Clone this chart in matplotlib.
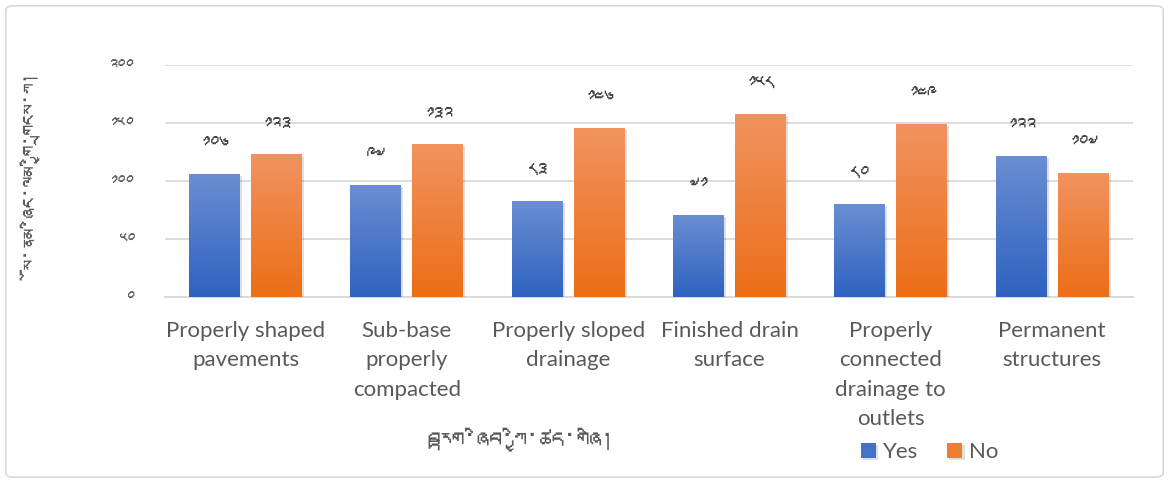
import numpy as np
import matplotlib
matplotlib.use("Agg")
import matplotlib.pyplot as plt
from matplotlib import font_manager
from matplotlib.ft2font import FT2Font
from matplotlib.patches import FancyBboxPatch
from matplotlib.colors import LinearSegmentedColormap
import matplotlib.patheffects as pe

categories = ["Properly shaped\npavements", "Sub-base\nproperly\ncompacted",
              "Properly sloped\ndrainage", "Finished drain\nsurface",
              "Properly\nconnected\ndrainage to\noutlets", "Permanent\nstructures"]
yes_vals = [106, 97, 83, 71, 80, 122]
no_vals = [123, 132, 146, 158, 149, 107]
yticks = [0, 50, 100, 150, 200]
series_names = ["Yes", "No"]
xlabel = "བརྟག་ཞིབ་ཀྱི་ཚད་གཞི།"
ylabel = "སོ་ནམ་ཞིང་ལམ་གྱི་གྲངས་ཀ།"

TIB_DIGITS = "༠༡༢༣༤༥༦༧༨༩"


def tib(n):
    return "".join(TIB_DIGITS[int(c)] for c in str(n))


def find_tibetan_font():
    for f in font_manager.fontManager.ttflist:
        try:
            if 0x0F40 in FT2Font(f.fname).get_charmap():
                return f.name
        except Exception:
            pass
    return None


tib_font = find_tibetan_font()
latin = "Lato"
tib_family = [tib_font, "DejaVu Sans"] if tib_font else ["DejaVu Sans"]

grey = "#595959"
fig = plt.figure(figsize=(11.69, 4.83), dpi=100)
border = FancyBboxPatch((0.005, 0.012), 0.99, 0.976,
                        boxstyle="round,pad=0,rounding_size=0.008",
                        transform=fig.transFigure, fc="none",
                        ec="#d9d9d9", lw=1.2, zorder=-1)
fig.patches.append(border)
ax = fig.add_axes([0.141, 0.385, 0.828, 0.48])
ax.set_facecolor("none")

x = np.arange(len(categories))
w = 0.315
off = 0.1925

blue_cm = LinearSegmentedColormap.from_list("b", ["#2f62c0", "#6a8ed2"])
orange_cm = LinearSegmentedColormap.from_list("o", ["#ec6e17", "#f19360"])

b1 = ax.bar(x - off, yes_vals, w, color="#4472c4", zorder=3, label=series_names[0])
b2 = ax.bar(x + off, no_vals, w, color="#ed7d31", zorder=3, label=series_names[1])

# gradient fill on each bar, like the excel default style
grad = np.linspace(0, 1, 256).reshape(-1, 1)
for bars, cm in ((b1, blue_cm), (b2, orange_cm)):
    for p in bars:
        p.set_path_effects([pe.SimplePatchShadow(offset=(1.5, -1.5), shadow_rgbFace="#000000", alpha=0.12), pe.Normal()])
        im = ax.imshow(grad, extent=[p.get_x(), p.get_x() + p.get_width(), 0, p.get_height()],
                       origin="lower", cmap=cm, aspect="auto", zorder=4)
        im.set_clip_path(p)

for bars, vals in ((b1, yes_vals), (b2, no_vals)):
    for p, v in zip(bars, vals):
        ax.annotate(tib(v), (p.get_x() + p.get_width() / 2, v), xytext=(0, 21),
                    textcoords="offset points", ha="center", va="center",
                    fontsize=14, color="#404040", family=tib_family)

ax.set_xlim(-0.5, len(categories) - 0.5)
ax.set_ylim(0, 200)
ax.set_yticks(yticks)
ax.set_yticklabels([tib(t) for t in yticks], family=tib_family, fontsize=12, color=grey)
ax.set_xticks(x)
ax.set_xticklabels(categories, fontsize=16, color=grey, family=latin, linespacing=1.6)
ax.tick_params(length=0)
ax.tick_params(axis="y", pad=22)
ax.tick_params(axis="x", pad=17)
ax.grid(axis="y", color="#d9d9d9", lw=1.3, zorder=0)
for s in ["top", "right", "left"]:
    ax.spines[s].set_visible(False)
ax.spines["bottom"].set_color("#d9d9d9")
ax.spines["bottom"].set_linewidth(1.3)

fig.text(0.445, 0.087, xlabel, ha="center", va="center", fontsize=18,
         color=grey, family=tib_family)
fig.text(0.036, 0.625, ylabel, ha="center", va="center", rotation=90, fontsize=15,
         color=grey, family=tib_family)

leg = ax.legend(loc="center", bbox_to_anchor=(0.79, -0.67), ncol=2, frameon=False,
                prop={"family": latin, "size": 16}, handlelength=0.7, handleheight=0.7,
                handletextpad=0.3, columnspacing=1.3, labelcolor=grey)

fig.savefig("out.png", dpi=100)
